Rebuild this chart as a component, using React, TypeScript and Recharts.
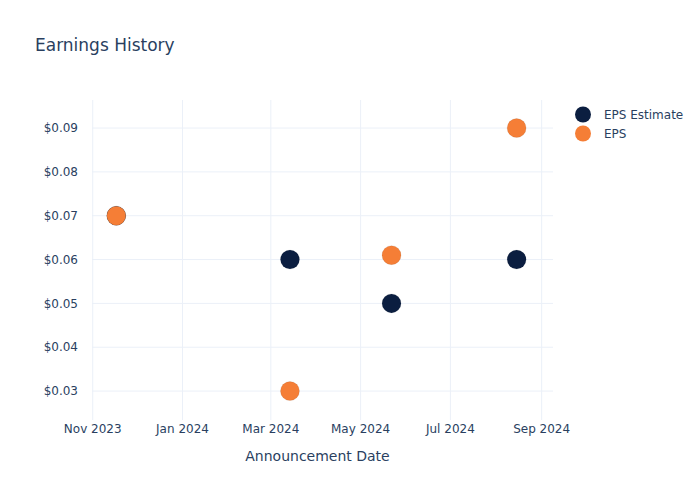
import React from 'react';
import { ScatterChart, Scatter, XAxis, YAxis, CartesianGrid } from 'recharts';

const dates = ['2023-11-17', '2024-03-14', '2024-05-22', '2024-08-15'];
const epsEstimate = [0.07, 0.06, 0.05, 0.06];
const eps = [0.07, 0.03, 0.061, 0.09];
const xTicks = ['2023-11-01', '2024-01-01', '2024-03-01', '2024-05-01', '2024-07-01', '2024-09-01'];
const yTicks = [0.03, 0.04, 0.05, 0.06, 0.07, 0.08, 0.09];

const MONTHS = ['Jan', 'Feb', 'Mar', 'Apr', 'May', 'Jun', 'Jul', 'Aug', 'Sep', 'Oct', 'Nov', 'Dec'];
const toTs = (d: string) => new Date(d + 'T00:00:00Z').getTime();
const fmtDate = (t: number) => {
  const d = new Date(t);
  return `${MONTHS[d.getUTCMonth()]} ${d.getUTCFullYear()}`;
};

const estimateData = dates.map((d, i) => ({ x: toTs(d), y: epsEstimate[i] }));
const epsData = dates.map((d, i) => ({ x: toTs(d), y: eps[i] }));

const xDomain = [toTs('2023-10-31') + 12 * 3600e3, toTs('2024-09-08') + 17 * 3600e3];
const yDomain = [0.0234, 0.0964];

const NAVY = '#0b1e40';
const ORANGE = '#f57e36';
const TEXT = '#2a3f5f';
const FONT = '"DejaVu Sans", Verdana, sans-serif';

const dot = (color: string) => (props: any) => (
  <circle cx={props.cx} cy={props.cy} r={9.5} fill={color} stroke="rgba(0,0,0,0.15)" strokeWidth={0.5} />
);

const legendItems = [
  { name: 'EPS Estimate', color: NAVY },
  { name: 'EPS', color: ORANGE },
];

const LegendBox = () => (
  <div style={{ position: 'absolute', left: 572, top: 105, fontSize: 12, color: TEXT }}>
    {legendItems.map((it) => (
      <div key={it.name} style={{ display: 'flex', alignItems: 'center', height: 19 }}>
        <svg width={20} height={19}>
          <circle cx={11} cy={9.5} r={8} fill={it.color} />
        </svg>
        <span style={{ marginLeft: 12 }}>{it.name}</span>
      </div>
    ))}
  </div>
);

// grid only at tick positions, no lines on the plot edges
const hGrid = ({ offset }: any) =>
  yTicks.map((t) => offset.top + ((yDomain[1] - t) / (yDomain[1] - yDomain[0])) * offset.height);
const vGrid = ({ offset }: any) =>
  xTicks.map((t) => offset.left + ((toTs(t) - xDomain[0]) / (xDomain[1] - xDomain[0])) * offset.width);

export default function App() {
  return (
    <div style={{ position: 'absolute', left: 0, top: 0, width: 700, height: 500, background: '#fff', fontFamily: FONT }}>
      <div style={{ position: 'absolute', left: 35, top: 35, fontSize: 17, color: TEXT }}>Earnings History</div>
      <ScatterChart width={700} height={500} margin={{ top: 100, right: 147, bottom: 0, left: 0 }}>
        <CartesianGrid
          stroke="#ebf0f8"
          strokeWidth={1}
          horizontalCoordinatesGenerator={hGrid}
          verticalCoordinatesGenerator={vGrid}
        />
        <XAxis
          type="number"
          dataKey="x"
          domain={xDomain}
          ticks={xTicks.map(toTs)}
          tickFormatter={fmtDate}
          allowDataOverflow
          height={80}
          tickSize={0}
          tickMargin={4}
          axisLine={false}
          tick={{ fill: TEXT, fontSize: 12, fontFamily: FONT }}
          label={{ value: 'Announcement Date', position: 'insideTop', offset: 31, dx: -5, fill: TEXT, fontSize: 14, fontFamily: FONT }}
        />
        <YAxis
          type="number"
          dataKey="y"
          domain={yDomain}
          ticks={yTicks}
          tickFormatter={(v: number) => `$${v.toFixed(2)}`}
          allowDataOverflow
          width={92}
          tickSize={0}
          tickMargin={14}
          axisLine={false}
          tick={{ fill: TEXT, fontSize: 12, fontFamily: FONT }}
        />
        <Scatter name="EPS Estimate" data={estimateData} fill={NAVY} shape={dot(NAVY)} isAnimationActive={false} />
        <Scatter name="EPS" data={epsData} fill={ORANGE} shape={dot(ORANGE)} isAnimationActive={false} />
      </ScatterChart>
      <LegendBox />
    </div>
  );
}
